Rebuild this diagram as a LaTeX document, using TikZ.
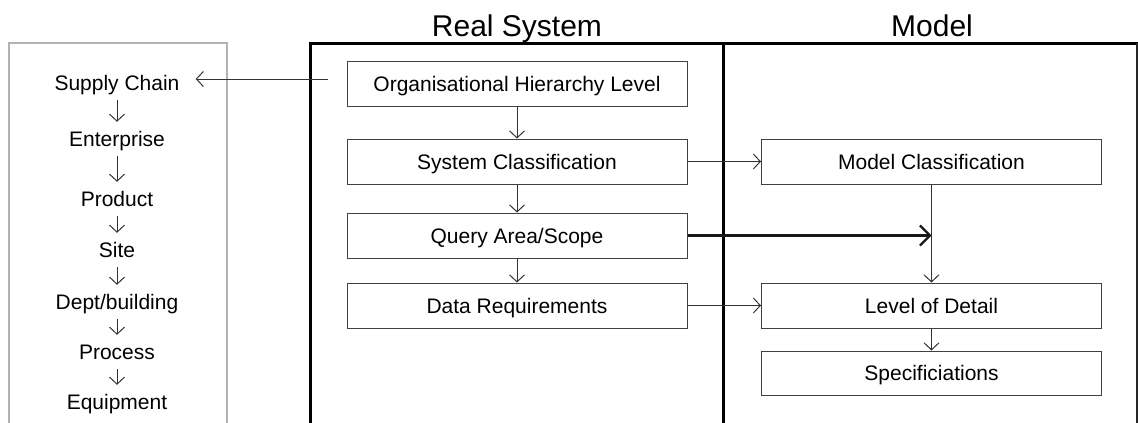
\documentclass[tikz,border=0pt]{standalone}
\usepackage{fontspec}
\setmainfont{Liberation Sans}
\usetikzlibrary{arrows.meta}
\tikzset{
  box/.style={draw=black!75, line width=1pt, minimum width=340pt, minimum height=45pt, inner sep=0pt, text height=15pt, text depth=0pt, font=\fontsize{21}{25}\selectfont},
  lvl/.style={minimum height=34pt, inner sep=0pt, text height=15pt, text depth=0pt, font=\fontsize{21}{25}\selectfont},
  arr/.style={draw=black!80, line width=1pt, -{Straight Barb[length=7pt,width=15pt]}},
  bigarr/.style={draw=black!90, line width=2.2pt, -{Straight Barb[length=10pt,width=20pt]}},
  frame/.style={line width=3pt, black},
  ttl/.style={anchor=base, font=\fontsize{30}{34}\selectfont},
}
\begin{document}
\begin{tikzpicture}[x=1pt,y=-1pt]
\useasboundingbox (0,0) rectangle (1138,423);
% left panel
\draw[gray!60, line width=1.5pt] (9,424) -- (9,43) -- (227,43) -- (227,424);
% frame
\draw[frame] (310,424) -- (310,43) -- (1138,43);
\draw[frame] (723,43) -- (723,424);
\draw[black!85, line width=1.5pt] (1137,43) -- (1137,424);
% titles
\node[ttl] (trs) at (517,36.5) {Real System};
\node[ttl] (tm) at (932,36.5) {Model};
% left list
\node[lvl] (sc) at (117,83) {Supply Chain};
\node[lvl] (ent) at (117,139) {Enterprise};
\node[lvl] (prod) at (117,199) {Product};
\node[lvl] (site) at (117,250) {Site};
\node[lvl] (dept) at (117,302) {Dept/building};
\node[lvl] (proc) at (117,352) {Process};
\node[lvl] (equip) at (117,402) {Equipment};
\draw[arr] (sc.south) -- (ent.north);
\draw[arr] (ent.south) -- (prod.north);
\draw[arr] (prod.south) -- (site.north);
\draw[arr] (site.south) -- (dept.north);
\draw[arr] (dept.south) -- (proc.north);
\draw[arr] (proc.south) -- (equip.north);
% real system boxes
\node[box] (ohl) at (517,83.5) {Organisational Hierarchy Level};
\node[box] (scl) at (517,161.5) {System Classification};
\node[box] (qas) at (517,235.5) {Query Area/Scope};
\node[box] (drq) at (517,305.5) {Data Requirements};
% model boxes
\node[box] (mcl) at (931.5,161.5) {Model Classification};
\node[box] (lod) at (931.5,305.5) {Level of Detail};
\node[box, minimum height=44pt] (spc) at (931.5,373) {Specificiations};
% connectors
\coordinate (orgL) at (328,79);
\draw[arr, shorten >=16pt] (orgL) -- (orgL -| sc.east);
\draw[arr] (ohl.south) -- (scl.north);
\draw[arr] (scl.south) -- (qas.north);
\draw[arr] (qas.south) -- (drq.north);
\draw[arr] (scl.east) -- (mcl.west);
\draw[arr] (drq.east) -- (lod.west);
\draw[bigarr] (qas.east) -- (qas.east -| mcl.south);
\draw[arr] (mcl.south) -- (lod.north);
\draw[arr] (lod.south) -- (spc.north);
\end{tikzpicture}
\end{document}
